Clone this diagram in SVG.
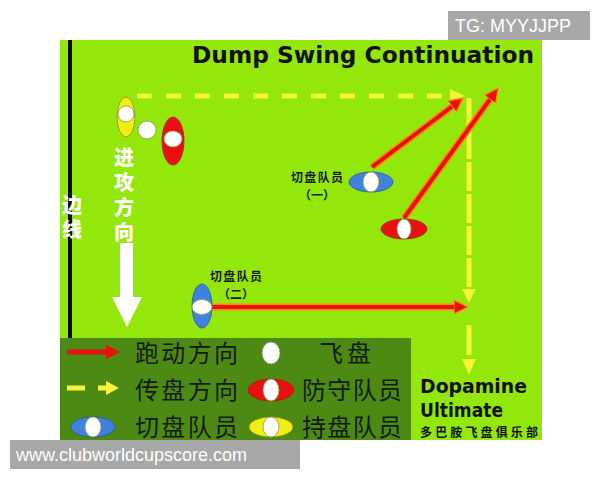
<svg xmlns="http://www.w3.org/2000/svg" width="600" height="480" viewBox="0 0 600 480">
<style>
.cn{font-family:"Noto Sans CJK SC",sans-serif}
.lbl{font-family:"Noto Sans CJK SC",sans-serif;font-weight:700;font-size:12px;fill:#1a1a1a;text-anchor:middle}
.leg{font-family:"Noto Sans CJK SC",sans-serif;font-weight:400;font-size:24px;fill:#141a0c}
.wt{font-family:"Noto Sans CJK SC",sans-serif;font-weight:900;font-size:20px;fill:#ffffff}
.disc{fill:#ffffff;stroke:#8a9a50;stroke-width:0.8}
.red{fill:#e81010;stroke:#9a2a10;stroke-width:0.8}
.blue{fill:#3f82e0;stroke:#2a5aa0;stroke-width:0.8}
.yel{fill:#f2ee12;stroke:#8a8a20;stroke-width:0.8}
.glow{stroke:#ff8a00;stroke-width:7;fill:none}
.run{stroke:#e81010;stroke-width:4;fill:none}
.pass{stroke:#f4f43c;stroke-width:5;fill:none}
.ph{fill:#f4f43c}
.wm{font-family:"Liberation Sans",Arial,sans-serif;font-size:18px;fill:#ffffff}
.eng{font-family:"DejaVu Sans",sans-serif;font-weight:700;fill:#111111}
</style>
<defs>
<marker id="rh" markerUnits="userSpaceOnUse" markerWidth="16" markerHeight="18" viewBox="0 -9 16 18" refX="0" refY="0" orient="auto">
<path d="M0,-7 L14,0 L0,7 Z" fill="#e81010" stroke="#ff8a00" stroke-width="1.2"/>
</marker>
</defs>

<rect x="0" y="0" width="600" height="480" fill="#ffffff"/>
<rect id="field" x="60" y="40" width="482" height="400" fill="#94e70b"/>
<rect id="sideline" x="68" y="40" width="4" height="298" fill="#0a0a0a"/>

<g id="title">
<text class="eng" x="192" y="63" font-size="23" textLength="342" lengthAdjust="spacingAndGlyphs">Dump Swing Continuation</text>
</g>

<g id="sideline-label">
<text class="wt" x="72" y="195" writing-mode="vertical-rl" letter-spacing="4">边线</text>
</g>

<g id="attack-direction">
<text class="wt" x="124" y="147" writing-mode="vertical-rl" letter-spacing="5">进攻方向</text>
<path d="M120,243 H133 V297 H142 L127,327 L112,297 H120 Z" fill="#ffffff"/>
</g>

<g id="connectors">
<path class="pass" d="M137,96 H452" stroke-dasharray="15 14"/>
<path class="ph" d="M450,89 L465,96 L450,103 Z"/>
<path class="pass" d="M469,98 V289" stroke-dasharray="29 3"/>
<path class="ph" d="M462,289 L476,289 L469,303 Z"/>
<path class="pass" d="M469,325 V355"/>
<path class="ph" d="M462,359 L476,359 L469,375 Z"/>

<path class="glow" d="M372,167 L452,106.5"/>
<path class="run" d="M372,167 L452,106.5" marker-end="url(#rh)"/>
<path class="glow" d="M404,218 L490,99.4"/>
<path class="run" d="M404,218 L490,99.4" marker-end="url(#rh)"/>
<path class="glow" d="M212,307 L454,307"/>
<path class="run" d="M212,307 L454,307" marker-end="url(#rh)"/>
</g>

<g id="handler">
<ellipse class="yel" cx="126" cy="117" rx="9" ry="20"/>
<circle class="disc" cx="126" cy="114" r="8"/>
</g>
<g id="frisbee">
<circle class="disc" cx="147" cy="130" r="9"/>
</g>
<g id="defender-1">
<ellipse class="red" cx="173" cy="141" rx="11" ry="24"/>
<ellipse class="disc" cx="173" cy="139" rx="9" ry="8"/>
</g>
<g id="cutter-1">
<ellipse class="blue" cx="371" cy="182" rx="22" ry="10"/>
<ellipse class="disc" cx="371" cy="182" rx="8" ry="10"/>
<text class="lbl" x="317" y="182" textLength="52" lengthAdjust="spacing">切盘队员</text>
<text class="lbl" x="317" y="199.5">（一）</text>
</g>
<g id="defender-2">
<ellipse class="red" cx="404" cy="229" rx="23" ry="10"/>
<ellipse class="disc" cx="404" cy="229" rx="7" ry="10"/>
</g>
<g id="cutter-2">
<ellipse class="blue" cx="202" cy="306" rx="10" ry="22"/>
<ellipse class="disc" cx="202" cy="307" rx="10" ry="7.5"/>
<text class="lbl" x="236" y="281" textLength="52" lengthAdjust="spacing">切盘队员</text>
<text class="lbl" x="236" y="298.5">（二）</text>
</g>

<g id="legend">
<rect x="60" y="338" width="351" height="102" fill="#4c8a14"/>
<path d="M67,352 H108" stroke="#e81010" stroke-width="5"/>
<path d="M106,345 L120,352 L106,359 Z" fill="#e81010"/>
<text class="leg" x="135" y="362" textLength="103" lengthAdjust="spacing">跑动方向</text>
<ellipse class="disc" cx="271" cy="353" rx="9" ry="11"/>
<text class="leg" x="319" y="362" textLength="52" lengthAdjust="spacing">飞盘</text>

<path d="M67,388 H85 M98,388 H108" stroke="#f4f43c" stroke-width="5"/>
<path d="M106,381 L119,388 L106,395 Z" fill="#f4f43c"/>
<text class="leg" x="135" y="399" textLength="103" lengthAdjust="spacing">传盘方向</text>
<ellipse class="red" cx="271" cy="390" rx="23" ry="11"/>
<ellipse class="disc" cx="271" cy="390" rx="8" ry="11"/>
<text class="leg" x="302" y="399" textLength="100" lengthAdjust="spacing">防守队员</text>

<ellipse class="blue" cx="93" cy="427" rx="22" ry="10"/>
<ellipse class="disc" cx="93" cy="427" rx="8" ry="10"/>
<text class="leg" x="135" y="436" textLength="103" lengthAdjust="spacing">切盘队员</text>
<ellipse class="yel" cx="271" cy="427" rx="22" ry="10"/>
<ellipse class="disc" cx="271" cy="427" rx="8" ry="10"/>
<text class="leg" x="302" y="436" textLength="100" lengthAdjust="spacing">持盘队员</text>
</g>

<g id="club">
<text class="eng" x="420" y="393" font-size="20" textLength="107" lengthAdjust="spacingAndGlyphs">Dopamine</text>
<text class="eng" x="420" y="417" font-size="20" textLength="83" lengthAdjust="spacingAndGlyphs">Ultimate</text>
<text class="cn" x="420" y="437" font-size="12" font-weight="700" fill="#111111" textLength="118" lengthAdjust="spacing">多巴胺飞盘俱乐部</text>
</g>

<g id="watermarks">
<rect x="448" y="11" width="142" height="29" fill="#a8a8a8"/>
<text class="wm" x="455" y="32">TG: MYYJJPP</text>
<rect x="10" y="440" width="290" height="29" fill="#a8a8a8"/>
<text class="wm" x="16" y="461">www.clubworldcupscore.com</text>
</g>
</svg>
